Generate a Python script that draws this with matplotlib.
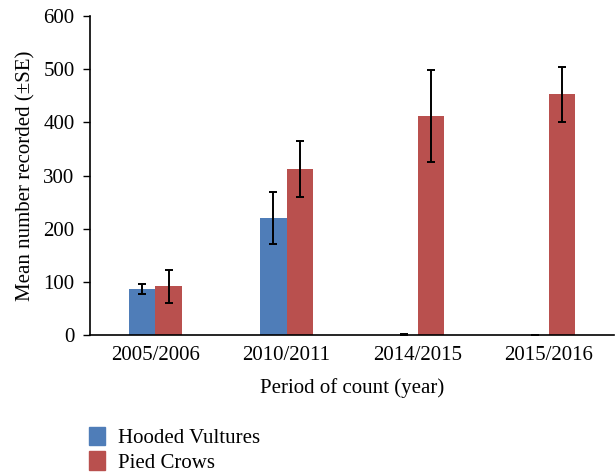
import matplotlib
matplotlib.use("Agg")
import matplotlib.pyplot as plt
import numpy as np
from matplotlib.patches import Patch

periods = ["2005/2006", "2010/2011", "2014/2015", "2015/2016"]
vultures_mean = [87, 220, 1, 0]
vultures_se = [9, 49, 2, 0]
crows_mean = [92, 312, 412, 453]
crows_se = [31, 53, 86, 52]

blue = "#4F7DB8"
red = "#B9504E"
fs = 15

plt.rcParams["font.family"] = ["Liberation Serif", "DejaVu Serif"]

fig = plt.figure(figsize=(6.16, 4.74), dpi=100)
ax = fig.add_axes([0.146, 0.293, 0.851, 0.673])

x = np.arange(len(periods))
w = 0.205
err_kw = dict(ecolor="black", elinewidth=1.4, capsize=3, capthick=1.4)
ax.bar(x - w / 2, vultures_mean, w, yerr=vultures_se, color=blue,
       error_kw=err_kw, label="Hooded Vultures")
ax.bar(x + w / 2, crows_mean, w, yerr=crows_se, color=red,
       error_kw=err_kw, label="Pied Crows")

ax.set_xlim(-0.5, len(periods) - 0.5)
ax.set_ylim(0, 600)
ax.set_yticks(range(0, 601, 100))
ax.set_xticks(x)
ax.set_xticklabels(periods)
ax.tick_params(axis="x", length=0, pad=8, labelsize=fs)
ax.tick_params(axis="y", length=5, width=1, direction="out", pad=6, labelsize=fs)
for s in ("top", "right"):
    ax.spines[s].set_visible(False)
for s in ("left", "bottom"):
    ax.spines[s].set_linewidth(1.2)

ax.set_xlabel("Period of count (year)", fontsize=fs, labelpad=9)
ax.set_ylabel("Mean number recorded (±SE)", fontsize=fs, labelpad=6)

handles = [Patch(color=blue, label="Hooded Vultures"),
           Patch(color=red, label="Pied Crows")]
fig.legend(handles=handles, loc="lower left", bbox_to_anchor=(0.114, -0.037),
           frameon=False, fontsize=fs, handlelength=0.75, handleheight=1.0,
           handletextpad=0.65, labelspacing=0.16)

fig.savefig("out.png", dpi=100)
